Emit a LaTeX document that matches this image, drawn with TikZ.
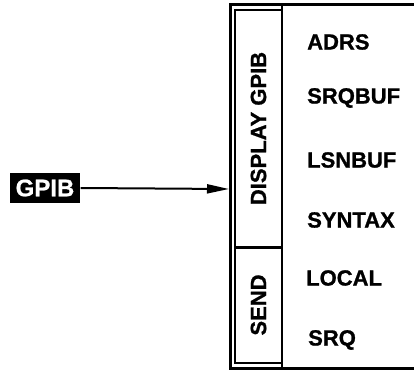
\documentclass[tikz,border=0pt]{standalone}
\usepackage{fontspec}
\newfontfamily\heavyfont{Liberation Sans}[BoldFeatures={FakeBold=1}]
\usetikzlibrary{arrows.meta,positioning}
\tikzset{
  framebox/.style={draw,line width=1.8pt,minimum width=#1,minimum height=47pt,inner sep=0pt,rotate=90,
    font=\heavyfont\bfseries\fontsize{22}{26}\selectfont},
  keylabel/.style={anchor=west,inner sep=0pt,font=\heavyfont\bfseries\fontsize{22}{26}\selectfont},
  gpibbox/.style={fill=black,text=white,inner xsep=6pt,inner ysep=3pt,minimum height=30pt,
    font=\heavyfont\bfseries\fontsize{24}{28}\selectfont},
  busarrow/.style={-{Triangle[length=22pt,width=9pt]},line width=2pt}
}
\begin{document}
\begin{tikzpicture}[x=1pt,y=-1pt]
  \useasboundingbox (0,0) rectangle (414,371);
  % open frame on the right
  \draw[line width=3pt] (414,5) -- (230,5) -- (230,368) -- (414,368);
  \draw[line width=1.8pt] (282,5) -- (282,368);
  % command columns
  \node[framebox=237pt] (display) at (258.5,128.5) {DISPLAY GPIB};
  \node[framebox=116pt] (send) at (258.5,305) {SEND};
  \draw[line width=3pt] (display.south west) -- (display.north west);
  \coordinate (frameleft) at (229,189);
  % keywords
  \node[keylabel] (adrs) at (307,42) {ADRS};
  \node[keylabel] (srqbuf) at (307,98) {SRQBUF};
  \node[keylabel] (lsnbuf) at (307,160) {LSNBUF};
  \node[keylabel] (syntax) at (307,220) {SYNTAX};
  \node[keylabel] (local) at (306,278) {LOCAL};
  \node[keylabel] (srq) at (308,340) {SRQ};
  % bus input
  \node[gpibbox] (gpib) at (45,188) {GPIB};
  \draw[busarrow] (gpib.east) -- (frameleft);
\end{tikzpicture}
\end{document}
